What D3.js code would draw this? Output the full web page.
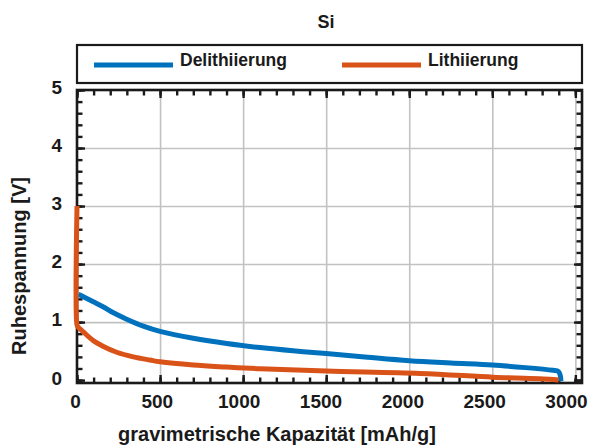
<!DOCTYPE html>
<html>
<head>
<meta charset="utf-8">
<script src="https://cdn.jsdelivr.net/npm/d3@7/dist/d3.min.js"></script>
<style>
  html, body { margin: 0; padding: 0; background: #fff; }
  svg { display: block; font-family: "Liberation Sans", Arial, Helvetica, sans-serif; font-weight: bold; }
</style>
</head>
<body>
<svg id="chart" width="598" height="448"></svg>
<script>
// Open-circuit voltage of a Si electrode vs. gravimetric capacity
const titleText = "Si";
const xLabelText = "gravimetrische Kapazität [mAh/g]";
const yLabelText = "Ruhespannung [V]";
const seriesNames = ["Delithiierung", "Lithiierung"];

const xTicks = [0, 500, 1000, 1500, 2000, 2500, 3000];
const yTicks = [0, 1, 2, 3, 4, 5];

// Delithiation (blue)
const capDelith  = [8, 50, 98, 159, 219, 299, 399, 500, 700, 901, 1102, 1300, 1500, 1750, 2000, 2250, 2500, 2700, 2866, 2890, 2903, 2910, 2913];
const voltDelith = [1.48, 1.42, 1.35, 1.26, 1.16, 1.05, 0.93, 0.84, 0.72, 0.63, 0.56, 0.505, 0.46, 0.395, 0.335, 0.295, 0.26, 0.215, 0.17, 0.16, 0.13, 0.07, -0.02];

// Lithiation (orange)
const capLith  = [0, 0, 5, 38, 98, 159, 239, 339, 440, 500, 700, 901, 1102, 1500, 2065, 2505, 2866, 2900];
const voltLith = [3.0, 0.95, 0.92, 0.83, 0.68, 0.58, 0.48, 0.40, 0.345, 0.315, 0.26, 0.225, 0.195, 0.155, 0.115, 0.05, 0.01, 0.0];

const colors = ["#0072BD", "#D95319"];
const ink = "#1a1a1a";

const svg = d3.select("#chart");
const pLeft = 77, pRight = 582, pTop = 90, pBottom = 383;

const x = d3.scaleLinear().domain([0, 3040]).range([pLeft, pRight]);
const y = d3.scaleLinear().domain([-0.05, 5]).range([pBottom, pTop]);
// tick-label placement scales
const xLab = d3.scaleLinear().domain([0, 3000]).range([75, 566]);
const yLab = d3.scaleLinear().domain([0, 5]).range([378, 87]);

const xMinor = d3.range(0, 3040, 100);
const yMinor = d3.range(0, 5.01, 0.2).map(v => +v.toFixed(2));

// grid
svg.append("g")
  .attr("transform", `translate(0,${pBottom})`)
  .call(d3.axisBottom(x).tickValues(xTicks.slice(1)).tickSize(-(pBottom - pTop)).tickFormat(""))
  .call(g => g.select(".domain").remove())
  .call(g => g.selectAll("line").attr("stroke", "#c2c2c2").attr("stroke-width", 1.6));
svg.append("g")
  .attr("transform", `translate(${pLeft},0)`)
  .call(d3.axisLeft(y).tickValues(yTicks.slice(1, -1)).tickSize(-(pRight - pLeft)).tickFormat(""))
  .call(g => g.select(".domain").remove())
  .call(g => g.selectAll("line").attr("stroke", "#c2c2c2").attr("stroke-width", 1.6));

function styleTicks(g) {
  g.select(".domain").remove();
  g.selectAll(".tick line").attr("stroke", ink).attr("stroke-width", 2.4);
  g.selectAll("text").attr("fill", ink).style("font-size", "19px").style("font-weight", "bold")
    .style("font-family", '"Liberation Sans", Arial, sans-serif');
}

// frame
svg.append("rect")
  .attr("x", pLeft).attr("y", pTop)
  .attr("width", pRight - pLeft).attr("height", pBottom - pTop)
  .attr("fill", "none").attr("stroke", ink).attr("stroke-width", 2.6);

// minor ticks on all four sides (inward)
const minorLen = 5.5, majorLen = 8;
svg.append("g").attr("transform", `translate(0,${pBottom})`)
  .call(d3.axisBottom(x).tickValues(xMinor).tickSizeInner(-minorLen).tickSizeOuter(0).tickFormat(""))
  .call(styleTicks);
svg.append("g").attr("transform", `translate(0,${pTop})`)
  .call(d3.axisTop(x).tickValues(xMinor).tickSizeInner(-minorLen).tickSizeOuter(0).tickFormat(""))
  .call(styleTicks);
svg.append("g").attr("transform", `translate(${pLeft},0)`)
  .call(d3.axisLeft(y).tickValues(yMinor).tickSizeInner(-minorLen).tickSizeOuter(0).tickFormat(""))
  .call(styleTicks);
svg.append("g").attr("transform", `translate(${pRight},0)`)
  .call(d3.axisRight(y).tickValues(yMinor).tickSizeInner(-minorLen).tickSizeOuter(0).tickFormat(""))
  .call(styleTicks);

// major ticks
svg.append("g").attr("transform", `translate(0,${pBottom})`)
  .call(d3.axisBottom(x).tickValues(xTicks).tickSizeInner(-majorLen).tickSizeOuter(0).tickFormat(""))
  .call(styleTicks);
svg.append("g").attr("transform", `translate(${pLeft},0)`)
  .call(d3.axisLeft(y).tickValues(yTicks).tickSizeInner(-majorLen).tickSizeOuter(0).tickFormat(""))
  .call(styleTicks);
svg.append("g").attr("transform", `translate(0,${pTop})`)
  .call(d3.axisTop(x).tickValues(xTicks).tickSizeInner(-majorLen).tickSizeOuter(0).tickFormat(""))
  .call(styleTicks);
svg.append("g").attr("transform", `translate(${pRight},0)`)
  .call(d3.axisRight(y).tickValues(yTicks).tickSizeInner(-majorLen).tickSizeOuter(0).tickFormat(""))
  .call(styleTicks);

// tick labels
svg.append("g").attr("transform", `translate(0,${pBottom})`)
  .call(d3.axisBottom(xLab).tickValues(xTicks).tickSize(0).tickPadding(12).tickFormat(d3.format("d")))
  .call(styleTicks)
  .call(g => g.selectAll(".tick line").remove());
svg.append("g").attr("transform", `translate(${pLeft},0)`)
  .call(d3.axisLeft(yLab).tickValues(yTicks).tickSize(0).tickPadding(15).tickFormat(d3.format("d")))
  .call(styleTicks)
  .call(g => g.selectAll(".tick line").remove());

// curves
const line = d3.line().curve(d3.curveCatmullRom.alpha(0.5)).x(d => x(d[0])).y(d => y(d[1]));
const delith = d3.zip(capDelith, voltDelith);
const lith = d3.zip(capLith, voltLith);

svg.append("path").datum(delith)
  .attr("d", line).attr("fill", "none").attr("stroke", colors[0])
  .attr("stroke-width", 5).attr("stroke-linejoin", "round");
svg.append("path").datum(lith)
  .attr("d", line).attr("fill", "none").attr("stroke", colors[1])
  .attr("stroke-width", 5).attr("stroke-linejoin", "round");

// legend
const lg = svg.append("g");
lg.append("rect").attr("x", pLeft).attr("y", 45).attr("width", pRight - pLeft).attr("height", 38)
  .attr("fill", "#fff").attr("stroke", ink).attr("stroke-width", 2.2);
const legendItems = [
  { name: seriesNames[0], color: colors[0], x0: 94, x1: 173, tx: 180 },
  { name: seriesNames[1], color: colors[1], x0: 342, x1: 421, tx: 428 }
];
legendItems.forEach(it => {
  lg.append("line").attr("x1", it.x0).attr("x2", it.x1).attr("y1", 65).attr("y2", 65)
    .attr("stroke", it.color).attr("stroke-width", 5);
  lg.append("text").attr("x", it.tx).attr("y", 66).text(it.name)
    .attr("fill", ink).style("font-size", "17.5px");
});

// title and axis labels
svg.append("text").attr("x", 326).attr("y", 28).attr("text-anchor", "middle")
  .style("font-size", "18px").attr("fill", ink).text(titleText);
svg.append("text").attr("x", 277).attr("y", 441).attr("text-anchor", "middle")
  .style("font-size", "20px").attr("fill", ink).text(xLabelText);
svg.append("text").attr("transform", "translate(26,266) rotate(-90)").attr("text-anchor", "middle")
  .style("font-size", "20px").attr("fill", ink).text(yLabelText);
</script>
</body>
</html>
